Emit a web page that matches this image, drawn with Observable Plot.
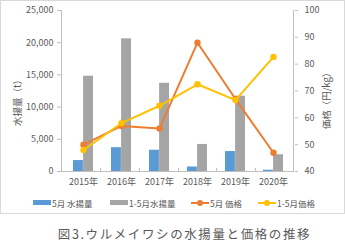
<!DOCTYPE html>
<html>
<head>
<meta charset="utf-8">
<script src="https://cdn.jsdelivr.net/npm/d3@7"></script>
<script src="https://cdn.jsdelivr.net/npm/@observablehq/plot@0.6"></script>
<style>
  html, body { margin: 0; padding: 0; background: #fff; }
  body { width: 345px; height: 250px; font-family: "Noto Sans CJK JP", "Noto Sans", sans-serif; color: #595959; }
  #box { width: 345px; height: 214px; box-sizing: border-box; border: 1px solid #d9d9d9; position: relative; }
  #legend { position: absolute; left: 0; top: 194px; width: 343px; height: 16px; font-size: 8.5px; color: #595959; }
  .item { position: absolute; top: 0; display: flex; align-items: center; height: 16px; white-space: nowrap; }
  #caption { text-align: center; font-size: 12.5px; letter-spacing: 1.6px; color: #595959; margin-top: 10px; padding-left: 24px; }
</style>
</head>
<body>
<div id="box"><div id="chart"></div><div id="legend"></div></div>
<div id="caption">図3.ウルメイワシの水揚量と価格の推移</div>
<script>
const years = ["2015年", "2016年", "2017年", "2018年", "2019年", "2020年"];
const mayCatch = [1700, 3700, 3300, 700, 3100, 200];
const janMayCatch = [14800, 20600, 13700, 4200, 11700, 2600];
const mayPrice = [50, 57, 56, 88, 67, 47];
const janMayPrice = [48, 58, 64.5, 72.5, 66.6, 82.7];
const leftTicks = [0, 5000, 10000, 15000, 20000, 25000];
const rightTicks = [40, 50, 60, 70, 80, 90, 100];
const seriesNames = ["5月 水揚量", "1-5月水揚量", "5月 価格", "1-5月価格"];
const colors = ["#5B9BD5", "#A5A5A5", "#ED7D31", "#FFC000"];

// price (40-100) mapped onto the quantity scale (0-25000)
const pMin = 40, pMax = 100, qMax = 25000;
const toQ = p => (p - pMin) * qMax / (pMax - pMin);
const fromQ = q => Math.round(pMin + q * (pMax - pMin) / qMax);

const catchRows = years.flatMap((y, i) => [
  {year: y, s: 0, v: mayCatch[i]},
  {year: y, s: 1, v: janMayCatch[i]}
]);
const mayRows = years.map((y, i) => ({year: y, v: toQ(mayPrice[i])}));
const janRows = years.map((y, i) => ({year: y, v: toQ(janMayPrice[i])}));

const axisColor = "#bfbfbf";
const plot = Plot.plot({
  width: 343,
  height: 192,
  marginLeft: 60,
  marginRight: 50,
  marginTop: 9,
  marginBottom: 22,
  style: {fontFamily: "'Noto Sans CJK JP', 'Noto Sans', sans-serif", fontSize: "9px", color: "#595959", background: "#fff"},
  x: {type: "band", domain: years, paddingInner: 0.48, paddingOuter: 0.24},
  y: {domain: [0, qMax]},
  marks: [
    Plot.barY(catchRows.filter(d => d.s === 0), {x: "year", y: "v", fill: colors[0], insetRight: 10.1}),
    Plot.barY(catchRows.filter(d => d.s === 1), {x: "year", y: "v", fill: colors[1], insetLeft: 10.1}),
    Plot.axisY(leftTicks, {anchor: "left", tickFormat: d => d3.format(",")(d), tickSize: 4, tickPadding: 4, stroke: axisColor, fill: "#595959", label: null}),
    Plot.axisY(rightTicks.map(toQ), {anchor: "right", tickFormat: fromQ, tickSize: 3, tickPadding: 7, stroke: axisColor, fill: "#595959", label: null}),
    Plot.axisX({tickSize: 0, tickPadding: 7, fill: "#595959", label: null}),
    Plot.ruleY([0], {stroke: axisColor}),
    Plot.line(mayRows, {x: "year", y: "v", stroke: colors[2], strokeWidth: 2}),
    Plot.dot(mayRows, {x: "year", y: "v", fill: colors[2], r: 3.2}),
    Plot.line(janRows, {x: "year", y: "v", stroke: colors[3], strokeWidth: 2}),
    Plot.dot(janRows, {x: "year", y: "v", fill: colors[3], r: 3.2})
  ]
});

// axis lines and band-boundary ticks using the plot's scales
const svg = d3.select(plot);
const xs = plot.scale("x"), ys = plot.scale("y");
const x0 = xs.range[0], x1 = xs.range[1];
const yTop = ys.apply(qMax), yBot = ys.apply(0);
const step = (x1 - x0) / years.length;
const g = svg.append("g").attr("stroke", axisColor).attr("stroke-width", 1);
g.append("line").attr("x1", x0 + 0.5).attr("x2", x0 + 0.5).attr("y1", yTop).attr("y2", yBot);
g.append("line").attr("x1", x1 - 0.5).attr("x2", x1 - 0.5).attr("y1", yTop).attr("y2", yBot);
d3.range(1, years.length).forEach(i => {
  const xx = Math.round(x0 + i * step) + 0.5;
  g.append("line").attr("x1", xx).attr("x2", xx).attr("y1", yBot - 3).attr("y2", yBot);
});
// axis titles
svg.append("text").attr("transform", `translate(20,${(yTop + yBot) / 2 + 10}) rotate(-90)`)
  .attr("text-anchor", "middle").attr("font-size", 9.5).attr("fill", "#595959").text("水揚量（t）");
svg.append("text").attr("transform", `translate(329,${(yTop + yBot) / 2 + 8}) rotate(-90)`)
  .attr("text-anchor", "middle").attr("font-size", 9.5).attr("fill", "#595959").text("価格（円/kg）");

document.getElementById("chart").appendChild(plot);

// legend
const legend = d3.select("#legend");
const lefts = [32, 109, 190, 257];
seriesNames.forEach((name, i) => {
  const it = legend.append("div").attr("class", "item").style("left", lefts[i] + "px");
  const sw = it.append("svg").attr("width", 19).attr("height", 10);
  if (i < 2) {
    sw.append("rect").attr("x", 0).attr("y", 2).attr("width", 18).attr("height", 5).attr("fill", colors[i]);
  } else {
    sw.append("line").attr("x1", 0).attr("x2", 18).attr("y1", 5).attr("y2", 5).attr("stroke", colors[i]).attr("stroke-width", 2);
    sw.append("circle").attr("cx", 9).attr("cy", 5).attr("r", 3).attr("fill", colors[i]);
  }
  it.append("span").text(name);
});
</script>
</body>
</html>
